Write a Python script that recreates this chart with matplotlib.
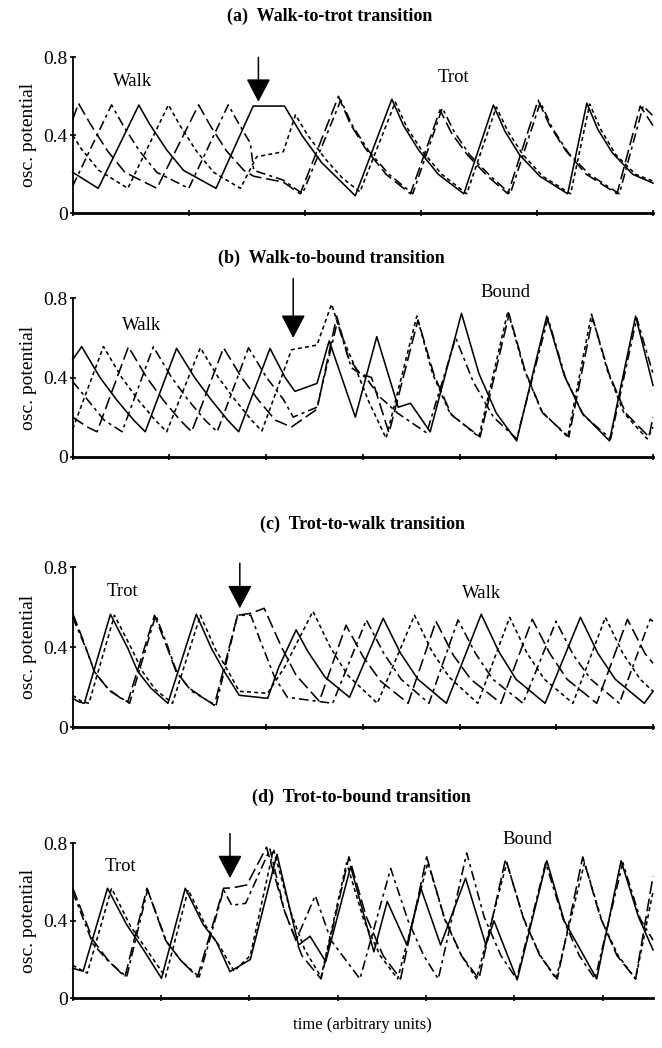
import matplotlib
matplotlib.use("Agg")
import matplotlib.pyplot as plt
import numpy as np

plt.rcParams['font.family'] = ['Liberation Serif', 'DejaVu Serif']

# ---------------- data: (time, oscillator potential) keypoints ----------------
# Panel (a) Walk-to-trot
a_solid = [(0,0.21),(4.4,0.128),(11.4,0.555),(13.2,0.46),(16.2,0.325),(19.1,0.22),(24.7,0.128),(31.1,0.55),(36.5,0.55),(39.5,0.4),(42.9,0.26),(48.7,0.09),(55,0.585),(57,0.45),(59.6,0.325),(63,0.2),(67.4,0.1),(72.5,0.555),(74.5,0.42),(77,0.3),(80.5,0.19),(85.3,0.1),(88.6,0.565),(90.5,0.43),(93,0.31),(96.5,0.2),(100,0.155)]
a_dash = [(0,0.48),(1.0,0.564),(3,0.46),(6,0.32),(9,0.21),(14.5,0.128),(21.7,0.556),(23.7,0.45),(26.5,0.32),(29.5,0.22),(31.2,0.19),(36.3,0.16),(39.2,0.1),(45.8,0.6),(47.8,0.46),(50.5,0.33),(54,0.2),(58.2,0.1),(63.3,0.53),(65.3,0.41),(68,0.3),(71.5,0.19),(75,0.1),(80.2,0.58),(82.2,0.45),(85,0.32),(88.5,0.2),(93.8,0.1),(97.8,0.55),(100,0.45)]
a_dd = [(0,0.14),(6.7,0.556),(8.7,0.45),(11.5,0.32),(14.5,0.21),(20,0.128),(26.8,0.556),(28.8,0.45),(30.6,0.36),(31.2,0.22),(36.3,0.17),(39.6,0.1),(46.2,0.58),(48.2,0.45),(51,0.32),(54.5,0.2),(58.6,0.1),(63.7,0.54),(65.7,0.42),(68.4,0.3),(72,0.19),(75.4,0.1),(80.6,0.57),(82.6,0.44),(85.4,0.31),(89,0.2),(94.2,0.1),(98.3,0.55),(100,0.5)]
a_dot = [(0,0.40),(1.5,0.33),(4.5,0.22),(9.5,0.128),(16.5,0.556),(18.5,0.45),(21.3,0.32),(24.3,0.21),(28.9,0.128),(31.7,0.29),(36.3,0.316),(38.4,0.505),(40.5,0.4),(43.5,0.28),(46.5,0.18),(49.5,0.11),(55.6,0.57),(57.6,0.44),(60.2,0.32),(63.6,0.2),(67.9,0.1),(73,0.545),(75,0.42),(77.6,0.3),(81,0.19),(85.8,0.1),(89.1,0.56),(91,0.43),(93.6,0.3),(97,0.2),(100,0.165)]

# Panel (b) Walk-to-bound
b_solid = [(0,0.49),(1.55,0.556),(4.7,0.40),(7.6,0.286),(10.5,0.185),(12.5,0.126),(17.9,0.547),(21,0.40),(23.9,0.286),(26.7,0.185),(28.6,0.126),(34,0.547),(36.6,0.40),(38.3,0.33),(42.1,0.37),(44.2,0.585),(48.7,0.2),(52.4,0.606),(56.1,0.25),(58.2,0.27),(61.6,0.126),(67,0.724),(70,0.42),(73,0.22),(76.5,0.08),(81.7,0.71),(84.7,0.41),(87.8,0.22),(92.5,0.08),(97,0.71),(100,0.36)]
b_dot = [(0,0.14),(5.3,0.556),(8.45,0.40),(11.3,0.286),(14.2,0.185),(16.2,0.126),(22,0.55),(25.1,0.40),(28,0.286),(30.8,0.185),(32.6,0.13),(37.7,0.54),(42.1,0.564),(44.6,0.77),(46.5,0.6),(48.7,0.45),(51,0.28),(54,0.093),(59.3,0.71),(62,0.42),(65,0.22),(70,0.1),(75,0.735),(77.8,0.44),(80.8,0.23),(85.3,0.1),(89.4,0.72),(92.2,0.43),(95,0.22),(99,0.09),(100,0.15)]
b_dash = [(0,0.2),(2.5,0.15),(4.2,0.126),(9.6,0.555),(12.75,0.40),(15.6,0.286),(18.5,0.185),(20.5,0.126),(26,0.55),(29.1,0.40),(32,0.286),(34.9,0.185),(37.7,0.15),(42.1,0.24),(45.5,0.71),(47.5,0.5),(49.5,0.42),(51.5,0.4),(54.5,0.12),(59.5,0.69),(62.3,0.41),(65.3,0.21),(70.2,0.1),(75.2,0.72),(78,0.43),(81,0.22),(85.5,0.1),(89.6,0.7),(92.4,0.42),(95.3,0.22),(99.3,0.1),(100,0.2)]
b_dd = [(0,0.38),(2.6,0.286),(5.4,0.185),(8.5,0.126),(13.9,0.555),(17.05,0.40),(19.9,0.286),(22.8,0.185),(24.9,0.126),(30.3,0.55),(33.4,0.40),(36.3,0.29),(38,0.2),(42.1,0.25),(45.6,0.68),(48,0.45),(50.5,0.4),(53,0.3),(56,0.22),(61,0.12),(66,0.6),(69,0.38),(72.5,0.2),(76.5,0.09),(81.9,0.7),(84.9,0.4),(88,0.21),(92.7,0.09),(97.2,0.7),(100,0.42)]

# Panel (c) Trot-to-walk
c_solid = [(0,0.145),(1,0.128),(2,0.12),(6.5,0.565),(9.5,0.395),(11.2,0.28),(13.5,0.195),(16.4,0.12),(21.3,0.565),(23.9,0.395),(26.1,0.28),(28.7,0.16),(33.6,0.145),(35.5,0.3),(38.5,0.487),(40.5,0.38),(43.5,0.25),(47.7,0.15),(53.5,0.545),(56.5,0.37),(59.5,0.24),(64.4,0.12),(70.4,0.565),(73.4,0.38),(76.4,0.24),(81.4,0.12),(87.5,0.55),(90.5,0.37),(93.5,0.24),(98.5,0.12),(100,0.18)]
c_dot = [(0,0.16),(1.5,0.13),(2.8,0.12),(7.2,0.56),(10.2,0.39),(12,0.28),(14.2,0.19),(17.2,0.12),(22,0.56),(24.6,0.39),(26.8,0.28),(28.7,0.18),(33.6,0.17),(36.5,0.3),(41.4,0.58),(44.4,0.4),(47.4,0.26),(52.5,0.12),(58.9,0.56),(61.9,0.38),(64.9,0.25),(69.8,0.12),(75.3,0.55),(78.3,0.37),(81.3,0.24),(86.2,0.12),(91.8,0.55),(94.8,0.37),(97.8,0.24),(100,0.18)]
c_dash = [(0,0.57),(2,0.42),(3.7,0.28),(6,0.195),(8.3,0.145),(9.5,0.128),(14.1,0.56),(16,0.42),(17.8,0.28),(20.1,0.195),(24.4,0.11),(28.4,0.56),(30.7,0.57),(33,0.595),(36,0.4),(38.5,0.26),(42.5,0.13),(47.1,0.51),(50.1,0.35),(53.1,0.23),(57.8,0.12),(62.6,0.53),(65.6,0.36),(68.6,0.24),(73.8,0.12),(79.2,0.54),(82.2,0.37),(85.2,0.24),(90.3,0.12),(95.6,0.54),(98.6,0.37),(100,0.32)]
c_dd = [(0,0.55),(2.2,0.4),(3.9,0.27),(6.5,0.18),(9.8,0.12),(14.3,0.56),(16.3,0.41),(18,0.27),(20.5,0.18),(24.7,0.11),(28.4,0.56),(30.7,0.56),(32.5,0.42),(34.8,0.25),(37,0.15),(44.8,0.12),(50.6,0.537),(53.6,0.37),(56.6,0.24),(61.4,0.12),(66.4,0.537),(69.4,0.37),(72.4,0.24),(77.6,0.12),(83.3,0.53),(86.3,0.36),(89.3,0.24),(94.2,0.12),(99.5,0.54),(100,0.53)]

# Panel (d) Trot-to-bound
d_solid = [(0,0.155),(1.8,0.14),(6,0.568),(9.3,0.38),(12.2,0.25),(15.3,0.103),(19.4,0.568),(22.5,0.38),(24.8,0.29),(27.1,0.138),(30.6,0.2),(35.2,0.743),(38.9,0.275),(40.9,0.32),(43.6,0.19),(47.9,0.68),(51.9,0.24),(54.2,0.5),(57.6,0.275),(60,0.568),(63.4,0.275),(67.7,0.62),(71.2,0.275),(72.6,0.4),(76.6,0.095),(81.7,0.71),(84.7,0.4),(90.3,0.1),(94.5,0.71),(97.5,0.42),(100,0.25)]
d_dot = [(0,0.17),(2.5,0.13),(6.7,0.568),(10,0.37),(13,0.24),(16,0.11),(19.9,0.56),(23,0.37),(25.5,0.26),(27.8,0.14),(30.6,0.22),(34.6,0.77),(37.5,0.45),(40,0.25),(42.8,0.11),(47.2,0.7),(50.2,0.4),(53,0.22),(56,0.1),(61.2,0.7),(64.2,0.4),(67,0.22),(69.6,0.1),(74.8,0.7),(77.8,0.4),(80.6,0.22),(83.3,0.1),(88.2,0.7),(91.2,0.4),(94,0.22),(97,0.1),(100,0.55)]
d_dash = [(0,0.57),(3.5,0.3),(6,0.2),(9,0.11),(12.8,0.568),(16,0.3),(18.5,0.2),(21.5,0.11),(26,0.568),(27.5,0.57),(30,0.585),(33.4,0.78),(36.5,0.45),(39.5,0.22),(42.8,0.1),(47.6,0.73),(50.6,0.42),(53.5,0.22),(56.5,0.1),(61,0.73),(64,0.42),(67,0.22),(70,0.1),(74.6,0.72),(77.6,0.42),(80.5,0.22),(83.5,0.1),(87.9,0.73),(90.9,0.42),(93.8,0.22),(97,0.1),(100,0.63)]
d_dd = [(0,0.55),(3.5,0.28),(6.2,0.19),(9.3,0.11),(12.9,0.56),(16.2,0.29),(18.8,0.19),(21.8,0.11),(26,0.56),(27.4,0.48),(29.8,0.49),(34,0.77),(36.5,0.45),(38.5,0.3),(41.8,0.53),(44.5,0.3),(47,0.2),(49.5,0.1),(54.8,0.67),(57.8,0.4),(60.5,0.22),(63,0.1),(67.9,0.75),(70.9,0.42),(73.8,0.22),(76.5,0.1),(81.5,0.7),(84.5,0.41),(87.3,0.22),(90,0.1),(94.8,0.7),(97.8,0.41),(100,0.3)]

titles = ["(a)  Walk-to-trot transition", "(b)  Walk-to-bound transition",
          "(c)  Trot-to-walk transition", "(d)  Trot-to-bound transition"]
gait_labels = [[("Walk", 10.4, 0.674), ("Trot", 65.6, 0.698)],
               [("Walk", 11.9, 0.665), ("Bound", 74.6, 0.827)],
               [("Trot", 8.6, 0.678), ("Walk", 70.4, 0.67)],
               [("Trot", 8.2, 0.678), ("Bound", 78.3, 0.82)]]
arrow_t = [32.0, 38.0, 28.8, 27.1]
arrow_tip = [0.572, 0.60, 0.595, 0.62]
arrow_top = [0.80, 0.90, 0.82, 0.85]
x_tick_step = [20.0, 100/6, 100/6, 15.22]
y_ticks = [0, 0.4, 0.8]
y_ticklabels = ["0", "0.4", "0.8"]

panels = [(a_solid, a_dash, a_dd, a_dot), (b_solid, b_dash, b_dd, b_dot),
          (c_solid, c_dash, c_dd, c_dot), (d_solid, d_dash, d_dd, d_dot)]

styles = ['-', (0, (8, 3)), (0, (6, 2.5, 2, 2.5)), (0, (2.5, 2))]

W, H = 662, 1048
fig = plt.figure(figsize=(W/100, H/100), dpi=100)

# axes geometry in pixels: (bottom-of-axes y, top y)
ax_px = [(213.3, 57.3), (456.7, 298.3), (727.3, 567.3), (998.3, 843.3)]
title_y = [16, 258, 524, 797]
title_x = [330, 331, 362, 361]
left_px, right_px = 72.7, 653.0

for i, (traces, (y0, y1)) in enumerate(zip(panels, ax_px)):
    ax = fig.add_axes([left_px/W, (H - y0)/H, (right_px-left_px)/W, (y0 - y1)/H])
    for tr, ls in zip(traces, styles):
        t = [p[0] for p in tr]
        v = [p[1] for p in tr]
        ax.plot(t, v, color='black', lw=1.15, linestyle=ls, clip_on=False)
    ax.set_xlim(0, 100)
    ax.set_ylim(0, 0.8)
    for s in ['top', 'right']:
        ax.spines[s].set_visible(False)
    ax.spines['left'].set_linewidth(1.3)
    ax.spines['bottom'].set_linewidth(2.0)
    xt = np.arange(0, 100.01, x_tick_step[i])
    ax.set_xticks(xt)
    ax.set_xticklabels([])
    ax.set_yticks(y_ticks)
    ax.set_yticklabels(y_ticklabels, fontsize=14)
    ax.tick_params(axis='x', direction='inout', length=5, width=1.2)
    ax.tick_params(axis='y', direction='inout', length=5, width=1.2, pad=1)
    ax.set_ylabel("osc. potential", fontsize=14, labelpad=5)
    for txt, tx, ty in gait_labels[i]:
        ax.text(tx, ty, txt, fontsize=13.5, ha='center', va='center')
    ax.annotate("", xy=(arrow_t[i], arrow_tip[i]), xytext=(arrow_t[i], arrow_top[i]),
                arrowprops=dict(arrowstyle="-|>,head_length=0.8,head_width=0.42",
                                color='black', lw=1.1, mutation_scale=18, shrinkA=0, shrinkB=0),
                annotation_clip=False)
    fig.text(title_x[i]/W, 1 - title_y[i]/H, titles[i], fontsize=13, fontweight='bold',
             ha='center', va='center')

fig.text(362/W, 1 - 1025/H, "time (arbitrary units)", fontsize=12, ha='center', va='center')

fig.savefig("out.png", dpi=100)
